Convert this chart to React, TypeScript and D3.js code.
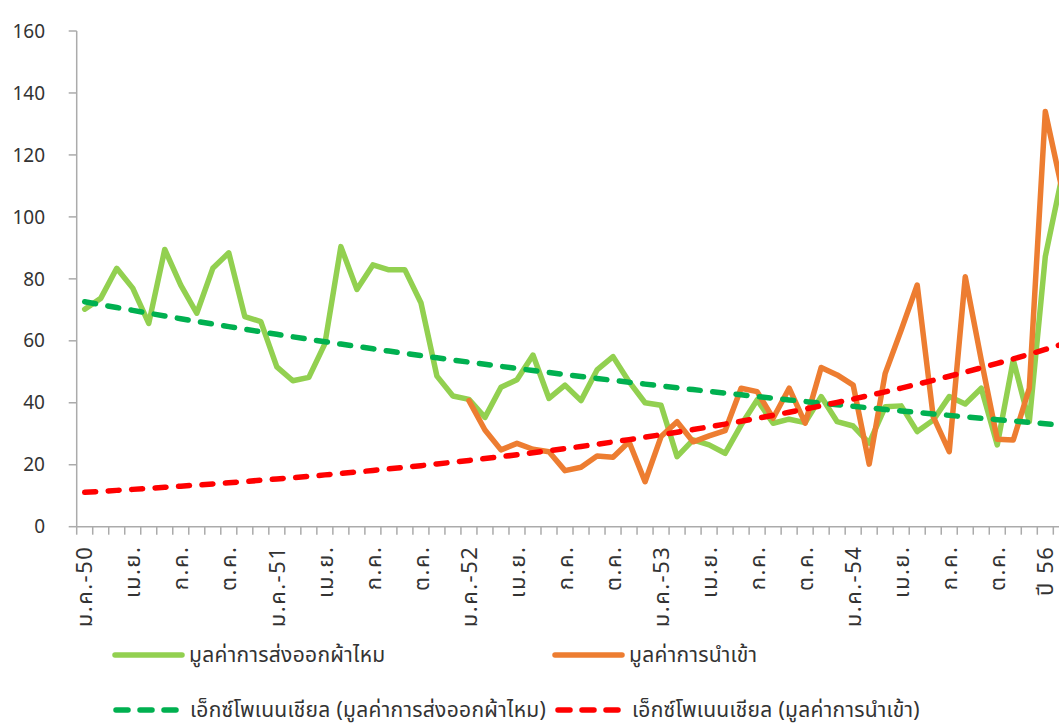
import * as d3 from "d3";
import { useEffect, useRef } from "react";

// month abbreviations and years (Thai Buddhist era, short)
const months = ["ม.ค.", "ก.พ.", "มี.ค.", "เม.ย.", "พ.ค.", "มิ.ย.", "ก.ค.", "ส.ค.", "ก.ย.", "ต.ค.", "พ.ย.", "ธ.ค."];
const years = ["50", "51", "52", "53", "54"];
const yearCategories = ["ปี 56", "ปี 57"];

const categories: string[] = [
  ...years.flatMap((y) => months.map((m, i) => (i === 0 ? `${m}-${y}` : m))),
  ...yearCategories,
];

const exportValues: (number | null)[] = [
  70.2, 73.7, 83.4, 77.0, 65.6, 89.5, 78.0, 68.9, 83.4, 88.4, 67.8, 66.2,
  51.6, 47.1, 48.2, 59.0, 90.4, 76.6, 84.5, 82.9, 82.9, 72.3, 48.6, 42.2,
  41.1, 35.3, 45.0, 47.4, 55.4, 41.4, 45.7, 40.7, 50.6, 54.9, 46.8, 40.0,
  39.2, 22.6, 28.0, 26.4, 23.7, 32.8, 40.9, 33.4, 34.7, 33.6, 42.0, 33.9,
  32.5, 27.0, 38.7, 39.0, 30.7, 34.4, 42.0, 39.6, 44.7, 26.4, 53.8, 33.9,
  87.2, 112,
];

const importValues: (number | null)[] = [
  null, null, null, null, null, null, null, null, null, null, null, null,
  null, null, null, null, null, null, null, null, null, null, null, null,
  40.7, 31.2, 24.8, 26.9, 25.0, 24.2, 18.1, 19.2, 22.8, 22.4, 27.4, 14.5,
  29.1, 33.9, 27.4, 29.3, 31.0, 44.7, 43.6, 35.0, 44.7, 33.4, 51.4, 49.0,
  45.7, 20.2, 49.5, 63.5, 78.0, 35.5, 24.2, 80.7, 53.8, 28.2, 28.0, 44.7,
  134, 110,
];

// exponential trendlines: value at first and last category
const exportTrend = [72.6, 32.8];
const importTrend = [11.1, 58.8];

const yTicks = [0, 20, 40, 60, 80, 100, 120, 140, 160];

const legendItems = [
  { label: "มูลค่าการส่งออกผ้าไหม", color: "#92D050", dash: false, x: 113, y: 655 },
  { label: "มูลค่าการนำเข้า", color: "#ED7D31", dash: false, x: 553, y: 655 },
  { label: "เอ็กซ์โพเนนเชียล (มูลค่าการส่งออกผ้าไหม)", color: "#00B050", dash: true, x: 113, y: 710 },
  { label: "เอ็กซ์โพเนนเชียล (มูลค่าการนำเข้า)", color: "#FF0000", dash: true, x: 555, y: 710 },
];

const FONT = "'Leelawadee UI', Tahoma, 'Noto Sans Thai', 'Noto Sans', sans-serif";

function App() {
  const ref = useRef<SVGSVGElement>(null);

  useEffect(() => {
    document.body.style.margin = "0";
    const width = 1059;
    const height = 725;
    const left = 76.7;
    const top = 31;
    const bottom = 526.7;
    const step = 16.01;

    const svg = d3.select(ref.current).attr("width", width).attr("height", height);
    svg.selectAll("*").remove();

    const idx = d3.range(categories.length);
    const x = d3
      .scaleBand<number>()
      .domain(idx)
      .range([left, left + step * categories.length])
      .padding(0);
    const cx = (i: number) => (x(i) ?? 0) + x.bandwidth() / 2;

    const y = d3.scaleLinear().domain([0, 160]).range([bottom, top]);

    const axisColor = "#ABABAB";
    const textColor = "#333";

    // y axis
    svg
      .append("line")
      .attr("x1", left)
      .attr("x2", left)
      .attr("y1", top)
      .attr("y2", bottom)
      .attr("stroke", axisColor)
      .attr("stroke-width", 1.5);
    svg
      .append("g")
      .selectAll("line")
      .data(yTicks)
      .join("line")
      .attr("x1", left - 8)
      .attr("x2", left)
      .attr("y1", (d) => y(d))
      .attr("y2", (d) => y(d))
      .attr("stroke", axisColor)
      .attr("stroke-width", 1.5);
    svg
      .append("g")
      .selectAll("text")
      .data(yTicks)
      .join("text")
      .attr("x", 45)
      .attr("y", (d) => y(d))
      .attr("dy", "0.35em")
      .attr("text-anchor", "end")
      .style("font", `19px ${FONT}`)
      .attr("fill", textColor)
      .text((d) => d);

    // x axis
    svg
      .append("line")
      .attr("x1", left)
      .attr("x2", width)
      .attr("y1", bottom)
      .attr("y2", bottom)
      .attr("stroke", axisColor)
      .attr("stroke-width", 1.5);
    svg
      .append("g")
      .selectAll("line")
      .data(idx)
      .join("line")
      .attr("x1", (d) => x(d) ?? 0)
      .attr("x2", (d) => x(d) ?? 0)
      .attr("y1", bottom)
      .attr("y2", bottom + 8)
      .attr("stroke", axisColor)
      .attr("stroke-width", 1.5);
    svg
      .append("g")
      .selectAll("text")
      .data(idx.filter((i) => i % 3 === 0))
      .join("text")
      .attr("transform", (i) => `translate(${cx(i)},${bottom + 19}) rotate(-90)`)
      .attr("dy", "0.35em")
      .attr("text-anchor", "end")
      .style("font", `22px ${FONT}`)
      .style("letter-spacing", "1.5px")
      .attr("fill", textColor)
      .text((i) => categories[i]);

    // trendlines
    const n = categories.length;
    const trendPoints = (t: number[]) =>
      d3.range(n).map((i) => t[0] * Math.pow(t[1] / t[0], i / (n - 1)));

    const line = d3
      .line<number | null>()
      .defined((d) => d !== null)
      .x((_, i) => cx(i))
      .y((d) => y(d as number));

    const series = [
      { values: exportValues, color: "#92D050", dash: null },
      { values: importValues, color: "#ED7D31", dash: null },
      { values: trendPoints(exportTrend), color: "#00B050", dash: "11 12.5" },
      { values: trendPoints(importTrend), color: "#FF0000", dash: "11 12.5" },
    ];

    svg
      .append("g")
      .selectAll("path")
      .data(series)
      .join("path")
      .attr("d", (d) => line(d.values))
      .attr("fill", "none")
      .attr("stroke", (d) => d.color)
      .attr("stroke-width", 5.5)
      .attr("stroke-linejoin", "round")
      .attr("stroke-linecap", "round")
      .attr("stroke-dasharray", (d) => d.dash);

    // legend
    const lg = svg
      .append("g")
      .selectAll("g")
      .data(legendItems)
      .join("g")
      .attr("transform", (d) => `translate(${d.x},${d.y})`);
    lg.append("line")
      .attr("x1", (d) => (d.dash ? 3 : 2))
      .attr("x2", (d) => (d.dash ? 64 : 69))
      .attr("stroke", (d) => d.color)
      .attr("stroke-width", 5.5)
      .attr("stroke-linecap", "round")
      .attr("stroke-dasharray", (d) => (d.dash ? "12 12" : null));
    lg.append("text")
      .attr("x", (d) => (d.dash ? 77 : 76))
      .attr("dy", "0.35em")
      .style("font", `21px ${FONT}`)
      .style("letter-spacing", "0.3px")
      .attr("fill", textColor)
      .text((d) => d.label);

    return () => {
      d3.select(ref.current).selectAll("*").remove();
    };
  }, []);

  return (
    <div>
      <svg ref={ref} style={{ display: "block" }}></svg>
    </div>
  );
}

export default App;
